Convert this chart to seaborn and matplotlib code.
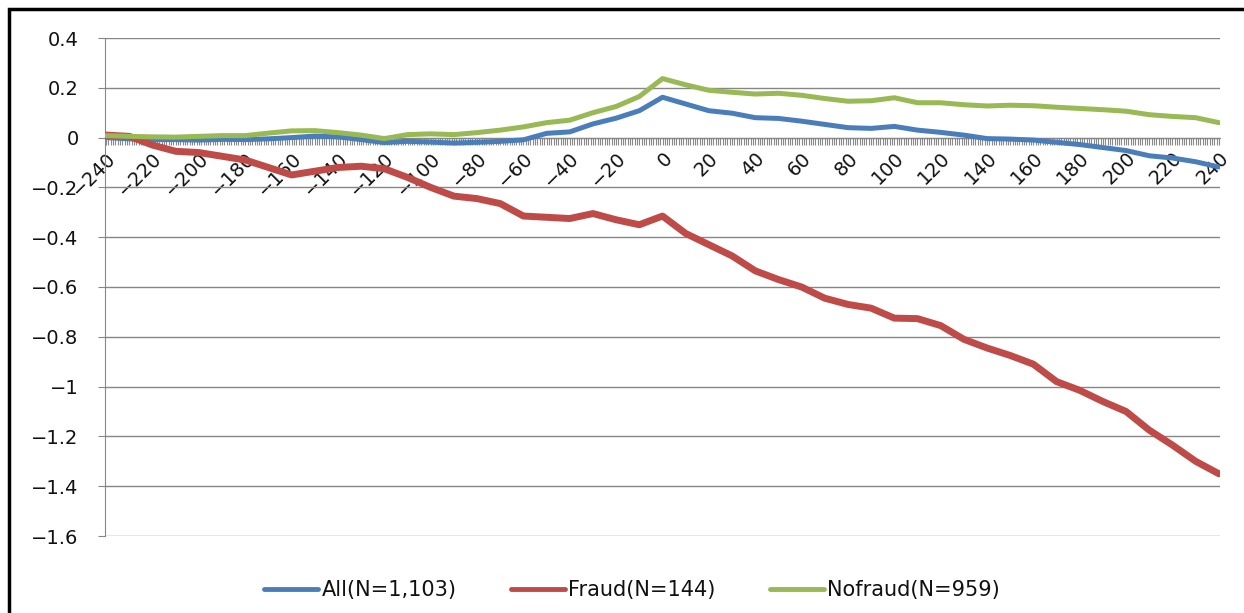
import numpy as np
import pandas as pd
import seaborn as sns
import matplotlib.pyplot as plt
from matplotlib.ticker import MultipleLocator

# days relative to event, read every 10 days off the chart
days = list(range(-240, 241, 10))

all_vals = [0.0, -0.005, -0.008, -0.008, -0.01, -0.007, -0.008, -0.005, 0.0, 0.006,
            0.003, -0.008, -0.02, -0.015, -0.018, -0.022, -0.019, -0.015, -0.009, 0.017,
            0.023, 0.055, 0.078, 0.108, 0.162, 0.135, 0.108, 0.098, 0.08, 0.077,
            0.066, 0.053, 0.04, 0.037, 0.045, 0.03, 0.021, 0.01, -0.004, -0.006,
            -0.01, -0.019, -0.028, -0.04, -0.052, -0.073, -0.082, -0.097, -0.118]

fraud_vals = [0.01, 0.005, -0.03, -0.055, -0.06, -0.075, -0.09, -0.12, -0.15, -0.135,
              -0.12, -0.115, -0.125, -0.16, -0.2, -0.235, -0.245, -0.265, -0.315, -0.32,
              -0.325, -0.305, -0.33, -0.35, -0.315, -0.385, -0.43, -0.475, -0.535, -0.57,
              -0.6, -0.645, -0.67, -0.685, -0.725, -0.727, -0.755, -0.81, -0.845, -0.875,
              -0.91, -0.98, -1.015, -1.06, -1.1, -1.175, -1.235, -1.30, -1.35]

nofraud_vals = [0.008, 0.005, 0.003, 0.002, 0.005, 0.008, 0.008, 0.018, 0.027, 0.028,
                0.02, 0.01, -0.004, 0.012, 0.015, 0.012, 0.02, 0.03, 0.043, 0.06,
                0.07, 0.1, 0.125, 0.165, 0.237, 0.212, 0.19, 0.182, 0.175, 0.178,
                0.17, 0.157, 0.146, 0.148, 0.16, 0.14, 0.14, 0.132, 0.127, 0.13,
                0.128, 0.122, 0.117, 0.112, 0.106, 0.092, 0.085, 0.08, 0.06]

labels = ["All(N=1,103)", "Fraud(N=144)", "Nofraud(N=959)"]
colors = ["#4A7EBB", "#BE4B48", "#98B954"]
yticks = [-1.6, -1.4, -1.2, -1, -0.8, -0.6, -0.4, -0.2, 0, 0.2, 0.4]

df = pd.concat([
    pd.DataFrame({"day": days, "car": all_vals, "group": labels[0]}),
    pd.DataFrame({"day": days, "car": fraud_vals, "group": labels[1]}),
    pd.DataFrame({"day": days, "car": nofraud_vals, "group": labels[2]}),
])

sns.set_style("white")
plt.rcParams["font.family"] = ["DejaVu Sans"]
plt.rcParams["text.color"] = "#111111"
plt.rcParams["xtick.labelcolor"] = "#111111"
plt.rcParams["ytick.labelcolor"] = "#111111"

fig = plt.figure(figsize=(12.44, 6.13), dpi=100)
ax = fig.add_axes([105 / 1244, 77 / 613, 1115 / 1244, 498 / 613])

sns.lineplot(data=df, x="day", y="car", hue="group", palette=colors,
             linewidth=3.6, ax=ax, legend=False, zorder=3)
ax.lines[1].set_linewidth(5.0)

ax.set_xlim(-240.5, 240.5)
ax.set_ylim(-1.6, 0.4)
ax.set_yticks(yticks)
ax.set_yticklabels([f"{v:g}".replace("-", "\u2212") for v in yticks])
ax.grid(axis="y", color="#868686", linewidth=1)
ax.set_xlabel("")
ax.set_ylabel("")

# x axis crosses at zero, Excel-style
ax.spines["bottom"].set_position(("data", 0))
ax.spines["bottom"].set_color("#868686")
ax.spines["left"].set_color("#868686")
ax.spines["top"].set_visible(False)
ax.spines["right"].set_visible(False)
ax.set_xticks(range(-240, 241, 20))
ax.set_xticklabels([str(d).replace("-", "\u2212") for d in range(-240, 241, 20)])
ax.xaxis.set_minor_locator(MultipleLocator(1))
ax.tick_params(axis="x", which="both", bottom=True, direction="out", length=5,
               color="#8a8a8a", width=0.8, labelsize=14, pad=3)
ax.tick_params(axis="y", left=True, direction="out", length=5, color="#868686",
               labelsize=14, pad=14)
for t in ax.get_xticklabels():
    t.set_rotation(45)
    t.set_ha("right")
    t.set_va("top")
    t.set_rotation_mode("anchor")

handles = [plt.Line2D([], [], color=c, linewidth=3.5) for c in colors]
fig.legend(handles, labels, loc="center", bbox_to_anchor=(632 / 1244, 1 - 590 / 613),
           ncol=3, frameon=False, fontsize=15, handlelength=2.6, columnspacing=2.6,
           handletextpad=0.15)

# outer chart frame (left and top edges visible)
fig.add_artist(plt.Rectangle((9 / 1244, -0.05), 1.2, 1 - 9 / 613 + 0.05,
                             transform=fig.transFigure, fill=False,
                             edgecolor="black", linewidth=2.5))

fig.savefig("out.png", dpi=100)
